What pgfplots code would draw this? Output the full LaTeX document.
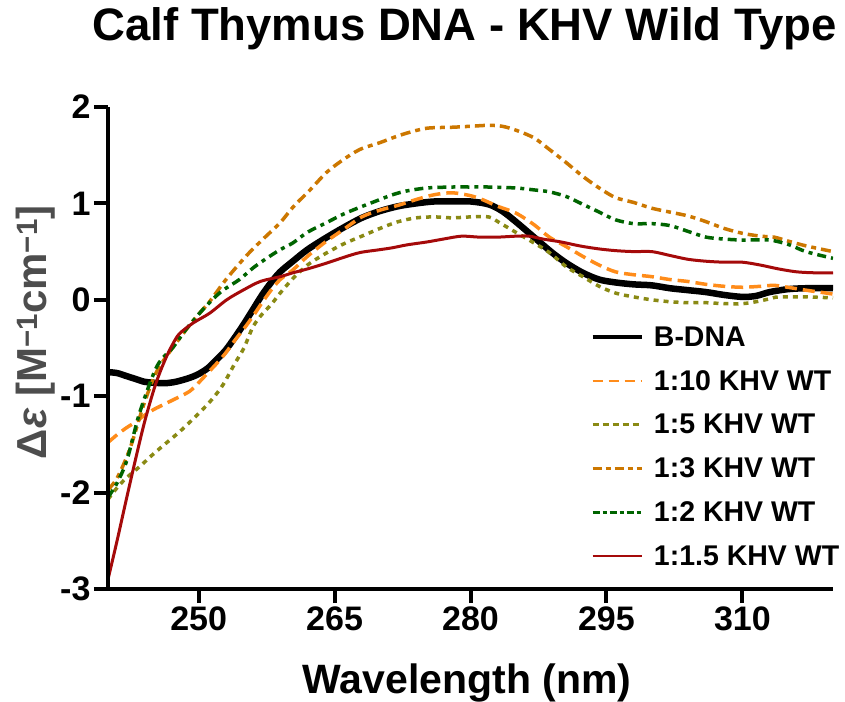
\documentclass[border=0pt]{standalone}
\usepackage{fontspec}
\setmainfont{Liberation Sans}
\usepackage{pgfplots}
\pgfplotsset{compat=1.18}
\definecolor{c10}{RGB}{255,140,26}
\definecolor{c5}{RGB}{138,138,20}
\definecolor{c3}{RGB}{204,119,0}
\definecolor{c2}{RGB}{0,100,0}
\definecolor{c15}{RGB}{165,10,10}
\definecolor{ylab}{RGB}{77,77,77}
\begin{document}
\begin{tikzpicture}
\begin{axis}[
 name=ax,
 scale only axis, width=725pt, height=482pt,
 xmin=240, xmax=320, ymin=-3, ymax=2,
 axis x line*=bottom, axis y line*=left,
 axis line style={line width=4pt},
 axis on top,
 xtick={250,265,280,295,310}, ytick={-3,-2,-1,0,1,2},
 xticklabels={250,265,280,295,310}, yticklabels={-3,-2,-1,0,1,2},
 tick align=outside, major tick length=14pt,
 tick style={line width=4pt, black},
 ticklabel style={font=\fontsize{34}{40}\selectfont\bfseries},
 title={Calf Thymus DNA - KHV Wild Type},
 title style={at={(axis description cs:0.492,1)}, anchor=base, yshift=60pt, font=\fontsize{45.5}{50}\selectfont\bfseries},
 xlabel={Wavelength (nm)},
 xlabel style={at={(axis description cs:0.495,0)}, anchor=base, yshift=-104pt, font=\fontsize{41}{48}\selectfont\bfseries},
 ylabel={Δ\textit{ε} [M\textsuperscript{−1}cm\textsuperscript{−1}]},
 ylabel style={at={(axis description cs:-0.10,0.533)}, anchor=center, font=\fontsize{42}{48}\selectfont\bfseries, text=ylab},
 legend style={draw=none, fill=none, at={(axis description cs:0.661,0.553)}, anchor=north west,
   font=\fontsize{28.5}{30}\selectfont\bfseries, row sep=18.5pt,
   /tikz/every odd column/.append style={column sep=8pt}},
 legend cell align=left,
 legend image code/.code={\draw[#1] (0pt,0pt) -- (49pt,0pt);},
]
% B-DNA
\addplot[black, line width=6.5pt, smooth, forget plot] table {
240 -0.75
241 -0.76
242 -0.79
243 -0.82
244 -0.85
245 -0.86
246.3 -0.865
247.5 -0.85
249 -0.81
250 -0.77
251 -0.71
252 -0.62
253 -0.52
254 -0.39
255 -0.25
256 -0.10
257 0.05
258 0.18
259 0.29
260.4 0.40
262 0.52
264 0.64
266 0.75
268 0.85
270 0.92
272 0.97
274 1.00
276 1.02
278 1.02
280 1.02
282 0.99
283.5 0.92
285 0.81
287 0.65
289 0.49
290.6 0.38
292.4 0.28
294.2 0.21
296 0.18
298 0.16
300 0.15
302 0.12
304 0.10
306 0.08
308 0.05
310 0.03
311.5 0.04
313 0.08
315 0.11
317 0.12
320 0.12
};
% 1:10
\addplot[c10, line width=3.5pt, dash pattern=on 12pt off 6pt, smooth, forget plot] table {
240 -1.48
241 -1.40
242 -1.33
243 -1.27
244 -1.20
245 -1.14
246.5 -1.07
248 -1.00
249 -0.95
250 -0.86
251 -0.76
252 -0.66
253 -0.55
254 -0.42
255 -0.30
256 -0.17
257 -0.03
258 0.10
259 0.21
260.4 0.31
262 0.45
264 0.60
266 0.73
268 0.86
270 0.93
272 0.98
274 1.04
276 1.09
278 1.11
280 1.08
281.3 1.04
283 0.97
285 0.90
287 0.78
288.7 0.65
290.6 0.55
292.4 0.45
294.2 0.36
296 0.29
298 0.26
300 0.24
302 0.21
304 0.19
306 0.16
308 0.14
310 0.13
312 0.14
313.5 0.15
315 0.13
317 0.10
320 0.06
};
% 1:5
\addplot[c5, line width=3.5pt, dash pattern=on 5pt off 5pt, smooth, forget plot] table {
240 -2.07
241 -1.95
242 -1.85
243.5 -1.73
245 -1.60
246.5 -1.48
248 -1.36
250 -1.18
251.5 -1.03
252.7 -0.88
254 -0.66
255 -0.50
256 -0.28
257 -0.15
258 -0.05
259 0.07
260.4 0.22
262 0.36
264 0.48
266 0.58
268 0.66
270 0.74
272 0.81
274 0.85
276 0.86
278 0.85
280 0.86
282 0.86
283.2 0.80
285 0.70
287 0.59
288.7 0.49
290.6 0.34
292.4 0.24
294.2 0.14
296 0.07
298 0.03
300 0.00
302 -0.02
304 -0.03
306 -0.03
308 -0.04
310 -0.04
311.5 -0.02
313 0.01
314 0.03
317 0.03
320 0.02
};
% 1:3
\addplot[c3, line width=3.5pt, dash pattern=on 10pt off 5pt on 5pt off 5pt, smooth, forget plot] table {
240 -1.97
241 -1.85
242.4 -1.55
243.9 -1.10
245 -0.82
245.7 -0.69
246.5 -0.58
247.5 -0.45
248.7 -0.30
250 -0.15
251.2 -0.02
253.1 0.22
255.3 0.46
257 0.62
259 0.80
260.4 0.96
262.3 1.14
264.1 1.32
265.9 1.45
267.8 1.56
270 1.63
271.4 1.68
273 1.73
275.2 1.78
278 1.79
280 1.80
282 1.81
283.5 1.80
285 1.76
287 1.68
288.7 1.56
290.6 1.42
292.4 1.28
294.2 1.16
296 1.06
298 1.01
300 0.95
302 0.91
304 0.87
306 0.81
308 0.74
310 0.69
312 0.66
313.5 0.65
315 0.61
317 0.56
320 0.50
};
% 1:2
\addplot[c2, line width=3.5pt, dash pattern=on 9pt off 5pt on 4pt off 5pt, smooth, forget plot] table {
240 -2.05
241 -1.90
242.1 -1.66
243.5 -1.17
245.4 -0.69
247.2 -0.49
248.5 -0.32
250.1 -0.14
251.5 0.00
252.7 0.10
254.5 0.21
256 0.33
257.5 0.43
259 0.52
260.4 0.59
262 0.70
264.1 0.80
266 0.89
267.8 0.96
270 1.04
271.4 1.09
273 1.13
275.2 1.16
278 1.17
280 1.17
282 1.17
285 1.16
287 1.14
288.7 1.12
290.6 1.07
292.4 0.99
294.2 0.91
296 0.83
298 0.79
300 0.79
302 0.77
304 0.71
306 0.65
308 0.63
310 0.62
313 0.62
315.2 0.57
317 0.50
320 0.43
};
% 1:1.5
\addplot[c15, line width=3pt, smooth, forget plot] table {
240 -2.90
241 -2.50
242 -2.08
243 -1.67
244 -1.28
245 -0.95
245.7 -0.76
246.5 -0.58
247.2 -0.45
247.9 -0.35
249.4 -0.24
251.2 -0.14
253.1 0.00
254.9 0.10
256.8 0.19
259 0.24
260.4 0.28
262 0.32
264.1 0.38
266 0.44
267.8 0.49
270 0.52
271.4 0.54
273 0.57
275.2 0.60
277 0.63
279 0.66
281 0.65
283 0.65
285 0.66
286.5 0.66
288 0.63
290 0.60
292 0.56
294 0.53
296 0.51
298 0.50
300 0.50
302 0.46
304 0.42
306 0.40
308 0.39
310 0.39
312 0.36
314 0.32
316 0.29
318 0.28
320 0.28
};
\addlegendimage{black, line width=4.5pt}
\addlegendimage{c10, line width=2.5pt, dash pattern=on 10pt off 6pt}
\addlegendimage{c5, line width=2.5pt, dash pattern=on 6pt off 4pt}
\addlegendimage{c3, line width=2.5pt, dash pattern=on 9pt off 4pt on 5pt off 4pt}
\addlegendimage{c2, line width=2.5pt, dash pattern=on 7pt off 3pt on 4pt off 3pt}
\addlegendimage{c15, line width=2.5pt}
\legend{B-DNA, 1:10 KHV WT, 1:5 KHV WT, 1:3 KHV WT, 1:2 KHV WT, 1:1.5 KHV WT}
\end{axis}
\pgfresetboundingbox
\path (ax.south west) ++(-108pt,-112pt) rectangle ++(845pt,701pt);
\end{tikzpicture}
\end{document}
